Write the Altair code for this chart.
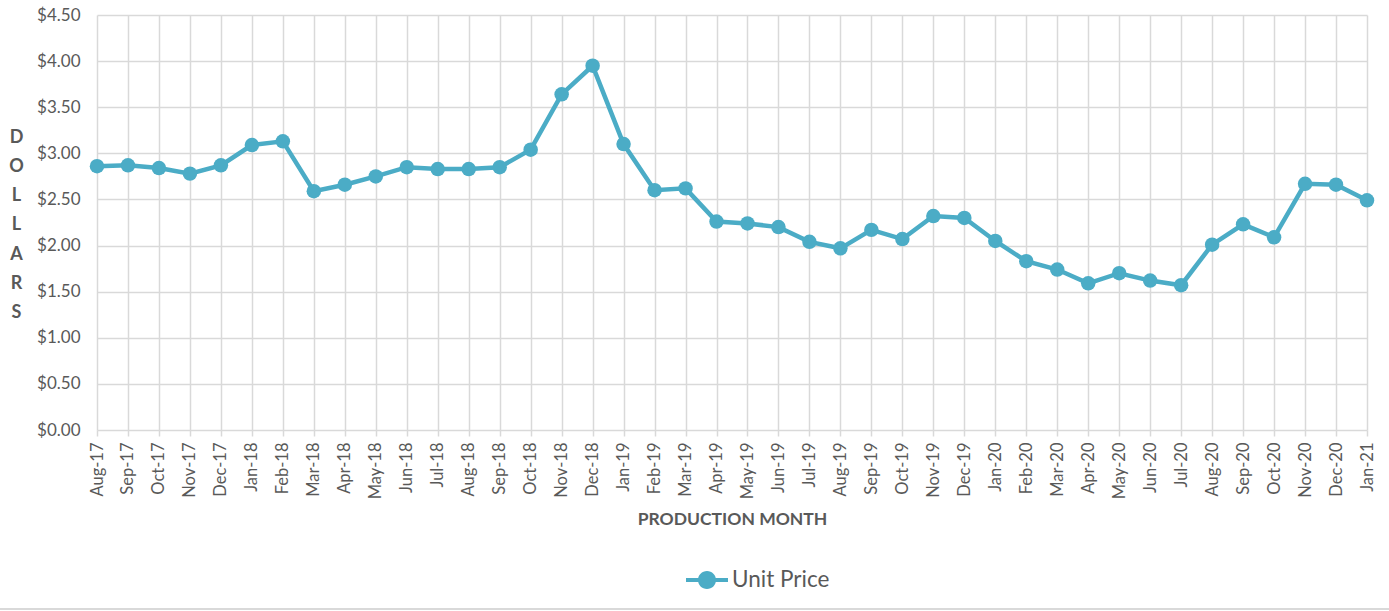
import altair as alt
import pandas as pd

months = [
    "Aug-17", "Sep-17", "Oct-17", "Nov-17", "Dec-17",
    "Jan-18", "Feb-18", "Mar-18", "Apr-18", "May-18", "Jun-18",
    "Jul-18", "Aug-18", "Sep-18", "Oct-18", "Nov-18", "Dec-18",
    "Jan-19", "Feb-19", "Mar-19", "Apr-19", "May-19", "Jun-19",
    "Jul-19", "Aug-19", "Sep-19", "Oct-19", "Nov-19", "Dec-19",
    "Jan-20", "Feb-20", "Mar-20", "Apr-20", "May-20", "Jun-20",
    "Jul-20", "Aug-20", "Sep-20", "Oct-20", "Nov-20", "Dec-20",
    "Jan-21",
]
unit_price = [
    2.86, 2.87, 2.84, 2.78, 2.87,
    3.09, 3.13, 2.59, 2.66, 2.75, 2.85,
    2.83, 2.83, 2.85, 3.04, 3.64, 3.95,
    3.10, 2.60, 2.62, 2.26, 2.24, 2.20,
    2.04, 1.97, 2.17, 2.07, 2.32, 2.30,
    2.05, 1.83, 1.74, 1.59, 1.70, 1.62,
    1.57, 2.01, 2.23, 2.09, 2.67, 2.66,
    2.49,
]
series_name = ["Unit Price"]
y_ticks = [0, 0.5, 1.0, 1.5, 2.0, 2.5, 3.0, 3.5, 4.0, 4.5]

TEAL = "#4BACC6"
GRID = "#d9d9d9"
TEXT = "#595959"
FONT = "Lato"

df = pd.DataFrame({
    "month": months,
    "price": unit_price,
    "series": series_name * len(months),
})

# legend glyph: a short line with a dot in the middle
legend_symbol = (
    "M-1,-0.1 L-0.42,-0.1 L-0.42,0.1 L-1,0.1 Z "
    "M0.42,-0.1 L1,-0.1 L1,0.1 L0.42,0.1 Z "
    "M0.43,0 A0.43,0.43 0 1,1 -0.43,0 A0.43,0.43 0 1,1 0.43,0 Z"
)

x_enc = alt.X(
    "month:N",
    sort=months,
    scale=alt.Scale(type="point", padding=0),
    axis=alt.Axis(
        title="PRODUCTION MONTH",
        titleFont=FONT,
        titleFontSize=17.5,
        titleFontWeight="bold",
        titleColor=TEXT,
        titlePadding=12,
        labelAngle=-90,
        labelAlign="right",
        labelBaseline="middle",
        labelFont=FONT,
        labelFontSize=16.5,
        labelColor=TEXT,
        labelPadding=6,
        labelOverlap=False,
        ticks=True,
        tickSize=6,
        tickColor=GRID,
        tickWidth=1.5,
        domain=False,
        grid=True,
        gridColor=GRID,
        gridWidth=1.5,
    ),
)

y_enc = alt.Y(
    "price:Q",
    scale=alt.Scale(domain=[0, 4.5], nice=False, zero=True),
    axis=alt.Axis(
        values=y_ticks,
        format="$.2f",
        title=["D", "O", "L", "L", "A", "R", "S"],
        titleAngle=0,
        titleAlign="center",
        titleBaseline="middle",
        titleX=-81,
        titleY=122,
        titleLineHeight=29.3,
        titleFont=FONT,
        titleFontSize=18,
        titleFontWeight="bold",
        titleColor=TEXT,
        labelFont=FONT,
        labelFontSize=17,
        labelColor=TEXT,
        labelPadding=17,
        ticks=False,
        domain=False,
        grid=True,
        gridColor=GRID,
        gridWidth=1.5,
    ),
)

color_enc = alt.Color(
    "series:N",
    scale=alt.Scale(domain=series_name, range=[TEAL]),
    legend=alt.Legend(
        title=None,
        orient="none",
        legendX=589,
        legendY=544,
        symbolType=legend_symbol,
        symbolSize=1764,
        symbolFillColor=TEAL,
        symbolStrokeColor=TEAL,
        symbolStrokeWidth=0,
        symbolOpacity=1,
        labelFont=FONT,
        labelFontSize=22.5,
        labelColor=TEXT,
        labelOffset=4,
    ),
)

line = alt.Chart(df).mark_line(
    strokeWidth=4.5,
    point=alt.OverlayMarkDef(size=210, filled=True, opacity=1),
).encode(x=x_enc, y=y_enc, color=color_enc)

# thin grey frame line along the bottom edge of the chart
frame = alt.Chart(df).mark_rule(color=GRID, strokeWidth=2).encode(
    x=alt.value(-97), x2=alt.value(1292), y=alt.value(594)
)

chart = alt.layer(line, frame).properties(
    width=1270,
    height=415,
    padding={"left": 97, "top": 15, "right": 22, "bottom": 181},
    autosize=alt.AutoSizeParams(type="none"),
    background="white",
).configure_view(stroke=None)

chart.save("out.html", embed_options={"renderer": "svg", "actions": False})
